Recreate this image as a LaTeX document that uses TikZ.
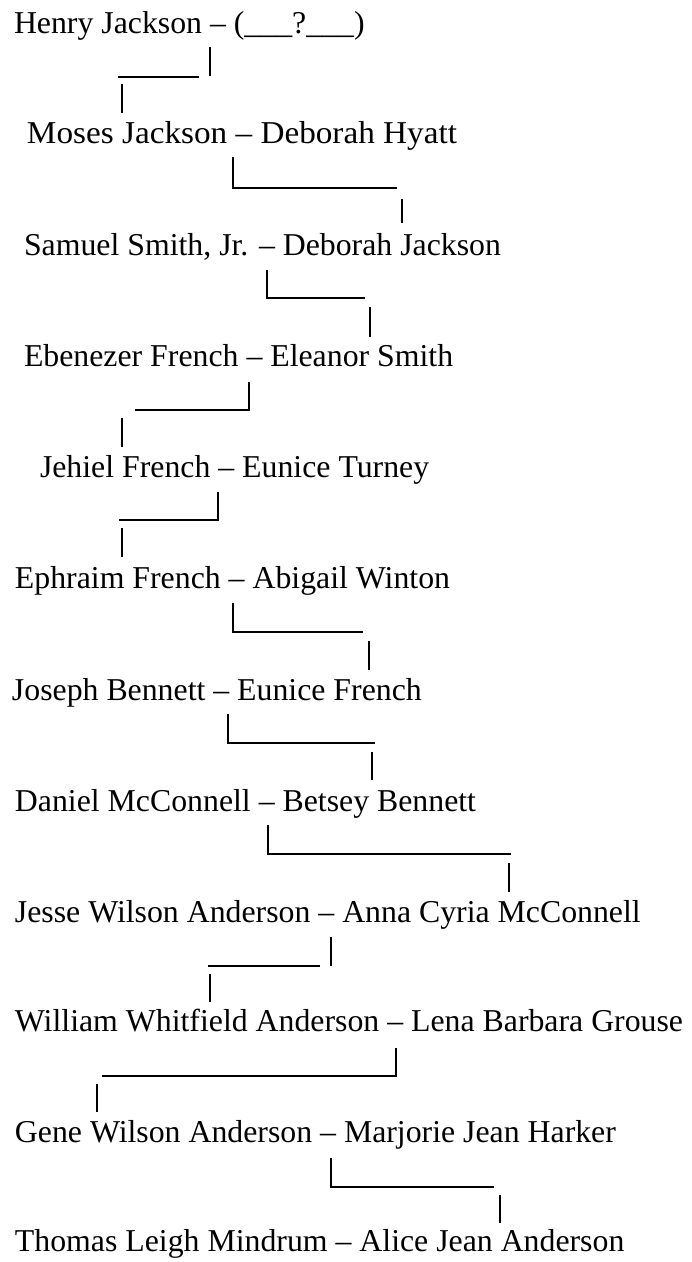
\documentclass[tikz,border=0pt]{standalone}
\usepackage{fontspec}
\setmainfont{Liberation Serif}
\begin{document}
\begin{tikzpicture}[x=1pt,y=-1pt,
  person/.style={anchor=base west,inner sep=0pt,outer sep=0pt,font=\fontsize{31.8}{38}\selectfont},
  link/.style={line width=1.6pt,line cap=butt}]
\useasboundingbox[fill=white] (0,0) rectangle (692,1262);
\node[person] (l1)  at (14,33)   {Henry Jackson – (\_\_\_?\_\_\_)};
\node[person] (l2)  at (27,143)  {\scalebox{1.045}[1]{Moses Jackson – Deborah Hyatt}};
\node[person] (l3)  at (24,255)  {Samuel Smith, Jr. – Deborah Jackson};
\node[person] (l4)  at (24,366)  {Ebenezer French – Eleanor Smith};
\node[person] (l5)  at (40,477)  {Jehiel French – Eunice Turney};
\node[person] (l6)  at (15,588)  {Ephraim French – Abigail Winton};
\node[person] (l7)  at (12,700)  {Joseph Bennett – Eunice French};
\node[person] (l8)  at (15,811)  {Daniel McConnell – Betsey Bennett};
\node[person] (l9)  at (15,922)  {Jesse Wilson Anderson – Anna Cyria McConnell};
\node[person] (l10) at (15,1031) {William Whitfield Anderson – Lena Barbara Grouse};
\node[person] (l11) at (15,1142) {Gene Wilson Anderson – Marjorie Jean Harker};
\node[person] (l12) at (15,1251) {Thomas Leigh Mindrum – Alice Jean Anderson};
% connectors
\draw[link] (210,47) -- (210,76);  \draw[link] (118,77) -- (199,77);  \draw[link] (122,84) -- (122,113);
\draw[link] (233,157) -- (233,188) -- (397,188);  \draw[link] (402,199) -- (402,223);
\draw[link] (267,270) -- (267,298) -- (365,298);  \draw[link] (370,307) -- (370,337);
\draw[link] (135,410) -- (249,410) -- (249,382);  \draw[link] (122,418) -- (122,447);
\draw[link] (119,520) -- (218,520) -- (218,492);  \draw[link] (122,528) -- (122,557);
\draw[link] (233,603) -- (233,632) -- (363,632);  \draw[link] (369,641) -- (369,670);
\draw[link] (228,714) -- (228,743) -- (375,743);  \draw[link] (372,752) -- (372,780);
\draw[link] (268,825) -- (268,854) -- (511,854);  \draw[link] (509,863) -- (509,892);
\draw[link] (331,937) -- (331,966);  \draw[link] (208,966) -- (320,966);  \draw[link] (210,974) -- (210,1002);
\draw[link] (102,1076) -- (396,1076) -- (396,1048);  \draw[link] (97,1084) -- (97,1112);
\draw[link] (331,1158) -- (331,1187) -- (494,1187);  \draw[link] (500,1195) -- (500,1223);
\end{tikzpicture}
\end{document}
